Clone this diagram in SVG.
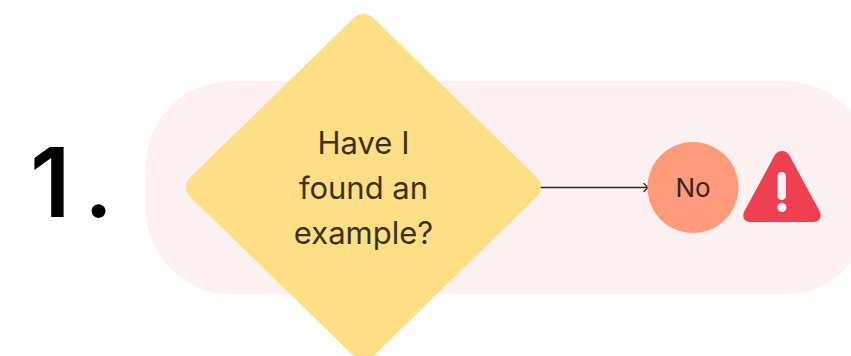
<svg xmlns="http://www.w3.org/2000/svg" width="851" height="356" viewBox="0 0 851 356">
<style>
text{font-family:Inter,"Liberation Sans",sans-serif;text-anchor:middle}
.q{font-size:31px;fill:#3a3120}
</style>
<defs><marker id="a" markerWidth="10" markerHeight="12" refX="8" refY="5" orient="auto" markerUnits="userSpaceOnUse"><path d="M3.500 .5 L8 5 L3.500 9.500" fill="none" stroke="#2e2420" stroke-width="1.300"/></marker></defs>
<rect width="851" height="356" fill="#fff"/>
<rect id="band" x="146" y="81" width="724" height="213" rx="85" ry="85" fill="#fff0f2"/>
<text id="number" y="217" font-size="96" fill="#000" style="text-anchor:start"><tspan x="30" font-weight="600">1</tspan><tspan x="84" font-weight="500">.</tspan></text>
<g id="connectors"><line x1="540" y1="187.500" x2="648" y2="187.500" stroke="#2e2420" stroke-width="1.300" marker-end="url(#a)"/></g>
<g id="decision">
<rect x="234" y="57.500" width="259" height="259" rx="14" transform="translate(363.500 187) scale(1 .975) rotate(45) translate(-363.500 -187)" fill="#fedf85"/>
<text class="q" x="363.500" y="154">Have I</text>
<text class="q" x="363.500" y="199">found an</text>
<text class="q" x="363.500" y="244">example?</text>
</g>
<g id="no"><circle cx="693" cy="187.500" r="45.500" fill="#ff9b7b"/><text x="693" y="196.500" font-size="26" fill="#3a211c">No</text></g>
<g id="warning">
<path d="M782 151 C785.500 151 788 153 789.500 155.500 L819.500 211 C822.500 216.500 819.500 222 813.500 222 L750 222 C744 222 741.500 216.500 744.500 211 L774.500 155.500 C776 153 778.500 151 782 151 Z" fill="#ef4051"/>
<rect x="777.500" y="172" width="8.500" height="28" rx="4.250" fill="#fff0f2"/>
<circle cx="782" cy="207.500" r="4.500" fill="#fff0f2"/>
</g>
</svg>
